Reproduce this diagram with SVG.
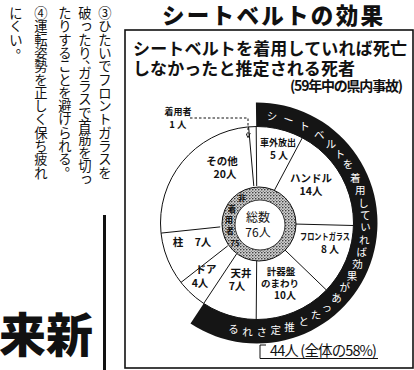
<svg xmlns="http://www.w3.org/2000/svg" width="414" height="370" viewBox="0 0 414 370">
<defs>
<style>
.jp{font-family:"Noto Sans CJK JP","Noto Sans CJK SC",sans-serif;fill:#111}
.lbl{font-family:"Noto Sans CJK JP","Noto Sans CJK SC",sans-serif;font-weight:700;text-anchor:middle;fill:#111}
.band{font-family:"Noto Sans CJK JP","Noto Sans CJK SC",sans-serif;font-size:10.5px;fill:#fff;text-anchor:middle;dominant-baseline:central}
.rt{font-family:"Noto Sans CJK JP","Noto Sans CJK SC",sans-serif;font-size:8px;font-weight:700;fill:#111;text-anchor:middle;dominant-baseline:central}
.vc{font-family:"Noto Sans CJK JP","Noto Sans CJK SC",sans-serif;font-size:13.3px;text-anchor:middle;fill:#111}
.ln{stroke:#111;stroke-width:1;fill:none}
</style>
<pattern id="stip" width="3" height="3" patternUnits="userSpaceOnUse">
<rect width="3" height="3" fill="#d0d0d0"/>
<circle cx="0.8" cy="0.8" r="0.8" fill="#222"/>
<circle cx="2.3" cy="2.2" r="0.55" fill="#444"/>
</pattern>
<marker id="arr" viewBox="0 0 8 8" refX="7" refY="4" markerWidth="5" markerHeight="5" orient="auto"><path d="M0,0 L8,4 L0,8" fill="none" stroke="#111" stroke-width="1.5"/></marker>
</defs>
<rect width="414" height="370" fill="#fff"/>

<g id="left-text">
<text class="vc" x="105 105 105 105 105 105 105 105 105 105 105 105 105" y="18 31.3 44.6 57.9 71.2 84.5 97.8 111.1 124.4 137.7 151 164.3 177.6">③ひたいでフロントガラスを</text>
<text class="vc" x="85 86.5 85 85 91.7 85 85 85 85 85 85 85 85 86.5" y="18 29.5 44.6 57.9 63 77.8 91.1 104.4 117.7 131 144.3 157.6 170.9 182.7">破ったり、ガラスで首筋を切っ</text>
<text class="vc" x="65 65 65 65 65 65 65 65 65 65 65 65 71.5" y="18 31.3 44.6 57.9 71.2 84.5 97.8 111.1 124.4 137.7 151 164.3 170">たりすることを避けられる。</text>
<text class="vc" x="41 41 41 41 41 41 41 41 41 41 41 41 41" y="18 31.3 44.6 57.9 71.2 84.5 97.8 111.1 124.4 137.7 151 164.3 177.6">④運転姿勢を正しく保ち疲れ</text>
<text class="vc" x="16 16 16 22.5" y="18 31.3 44.6 52.3">にくい。</text>
<line x1="104.5" y1="215" x2="104.5" y2="370" stroke="#111" stroke-width="3"/>
<text class="jp" x="-1" y="352" font-size="47" font-weight="900">来新</text>
</g>

<g id="title">
<text class="jp" x="272.5" y="23.5" font-size="22.5" font-weight="900" text-anchor="middle" textLength="221">シートベルトの効果</text>
</g>

<g id="frame">
<rect x="125" y="30" width="288" height="338" fill="none" stroke="#111" stroke-width="1.6"/>
</g>

<g id="subtitle">
<text class="jp" x="133" y="55" font-size="17" font-weight="700" textLength="274">シートベルトを着用していれば死亡</text>
<text class="jp" x="133" y="75" font-size="17" font-weight="700" textLength="222">しなかったと推定される死者</text>
<text class="jp" x="403" y="91" font-size="14" font-weight="700" text-anchor="end" textLength="113">(59年中の県内事故)</text>
</g>

<g id="pie">
<circle cx="257" cy="223" r="96.5" fill="#fff" stroke="#111" stroke-width="1"/>
</g>

<g id="sector-lines">
<path class="ln" d="M253.8,186.1 L248.6,126.9 M256.7,186 L256.2,126.5 M274.4,190.3 L302.3,137.8 M294,224 L353.5,225.5 M283.6,248.7 L326.4,290 M256.7,260 L256.2,319.5 M236.6,253.9 L203.7,303.5 M227.8,245.8 L181,282.4 M220.2,226.9 L161,233.1"/>
</g>

<g id="band">
<path d="M255.9,102.5 A120.5,120.5 0 1 1 190.5,323.5 L203.7,303.5 A96.5,96.5 0 1 0 256.2,126.5 Z" fill="#151515"/>
<text class="band" x="272.1" y="115.6">シ</text>
<text class="band" x="288.7" y="119.2" transform="rotate(18 288.7 119.2)">ー</text>
<text class="band" x="304.6" y="125.5">ト</text>
<text class="band" x="319.2" y="134.1">ベ</text>
<text class="band" x="331" y="143.6">ル</text>
<text class="band" x="340.1" y="153.3">ト</text>
<text class="band" x="348" y="163.9">を</text>
<text class="band" x="355.3" y="177.1">着</text>
<text class="band" x="360.2" y="189.5">用</text>
<text class="band" x="363.5" y="202.3">し</text>
<text class="band" x="365.2" y="214.5">て</text>
<text class="band" x="365.4" y="226.8">い</text>
<text class="band" x="364.3" y="239">れ</text>
<text class="band" x="361.8" y="251.1">ば</text>
<text class="band" x="357.6" y="263.6">効</text>
<text class="band" x="351.9" y="275.6">果</text>
<text class="band" x="344.8" y="286.8">が</text>
<text class="band" x="336.4" y="297">あ</text>
<text class="band" x="326.7" y="306.1">っ</text>
<text class="band" x="316.1" y="314">た</text>
<text class="band" x="303.7" y="320.9">と</text>
<text class="band" x="289.6" y="326.5">推</text>
<text class="band" x="275.8" y="329.8">定</text>
<text class="band" x="261.7" y="331.4">さ</text>
<text class="band" x="247.5" y="331.1">れ</text>
<text class="band" x="233.5" y="328.9">る</text>
</g>

<g id="ring">
<circle cx="259" cy="224" r="37" fill="url(#stip)" stroke="#111" stroke-width="1"/>
<circle cx="260" cy="225" r="25" fill="#fff" stroke="#111" stroke-width="0.8"/>
<text class="rt" x="242" y="197">非</text>
<text class="rt" x="232" y="208">着</text>
<text class="rt" x="229" y="219">用</text>
<text class="rt" x="230" y="230">者</text>
<text class="rt" x="235" y="242">75</text>
</g>

<g id="node-total"><text class="jp" x="258" y="221.5" font-size="12" text-anchor="middle">総数</text><text class="jp" x="258" y="236.5" font-size="12" text-anchor="middle">76人</text></g>
<g id="node-wearer"><text class="lbl" x="178" y="115" font-size="9">着用者</text><text class="lbl" x="178" y="128" font-size="9.5">1 人</text></g>
<g id="node-ejected"><text class="lbl" x="278" y="146" font-size="9">車外放出</text><text class="lbl" x="279" y="159" font-size="10">5 人</text></g>
<g id="node-handle"><text class="lbl" x="311" y="182" font-size="10.5">ハンドル</text><text class="lbl" x="311" y="195" font-size="10.5">14人</text></g>
<g id="node-windshield"><text class="lbl" x="325" y="239.5" font-size="9" textLength="50" lengthAdjust="spacingAndGlyphs">フロントガラス</text><text class="lbl" x="330" y="253" font-size="10">8 人</text></g>
<g id="node-dash"><text class="lbl" x="281" y="275" font-size="9.5">計器盤</text><text class="lbl" x="280" y="286.5" font-size="9.5">のまわり</text><text class="lbl" x="285" y="298.5" font-size="10">10人</text></g>
<g id="node-roof"><text class="lbl" x="241" y="277" font-size="10.5">天井</text><text class="lbl" x="237" y="289.5" font-size="10.5">7人</text></g>
<g id="node-door"><text class="lbl" x="206" y="273" font-size="10.5">ドア</text><text class="lbl" x="200" y="287" font-size="10.5">4人</text></g>
<g id="node-pillar"><text class="lbl" x="178" y="245.5" font-size="10.5">柱</text><text class="lbl" x="203" y="245.5" font-size="10.5">7人</text></g>
<g id="node-other"><text class="lbl" x="222" y="165" font-size="10.5">その他</text><text class="lbl" x="225" y="178" font-size="10.5">20人</text></g>
<g id="node-sum"><text class="jp" x="270" y="355.5" font-size="14.5" textLength="107">44人 (全体の58%)</text></g>

<g id="connectors">
<path d="M190,118 H248 V137" fill="none" stroke="#111" stroke-width="1" stroke-dasharray="2.5 2" marker-end="url(#arr)"/>
<path d="M266,345 H260 V358.5 H378" fill="none" stroke="#111" stroke-width="1"/>
</g>
</svg>
